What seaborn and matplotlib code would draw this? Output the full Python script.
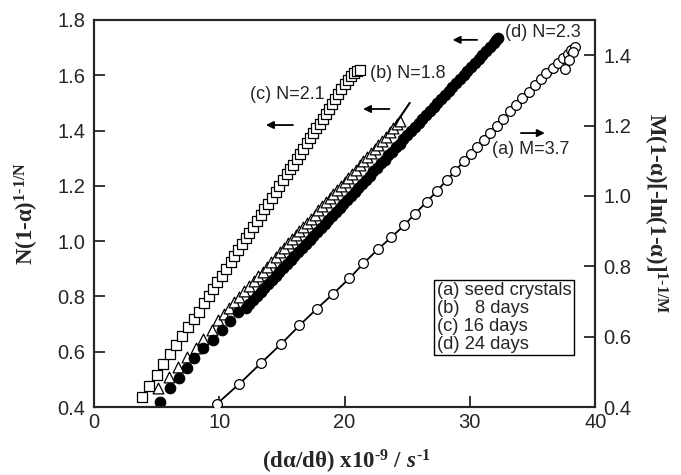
import matplotlib
matplotlib.use("Agg")
import matplotlib.pyplot as plt
import seaborn as sns

# (c) 16 days - open squares, left axis
x_c = [3.8, 4.4, 5.0, 5.5, 6.05, 6.55, 7.0, 7.5, 7.95, 8.35, 8.75, 9.15, 9.5, 9.85,
       10.2, 10.55, 10.9, 11.2, 11.5, 11.8, 12.1, 12.4, 12.7, 13.0, 13.3, 13.6, 13.9,
       14.2, 14.5, 14.8, 15.1, 15.4, 15.65, 15.9, 16.2, 16.45, 16.7, 17.0, 17.25, 17.5,
       17.75, 18.0, 18.25, 18.5, 18.75, 19.0, 19.25, 19.5, 19.75, 20.0, 20.25, 20.5,
       20.75, 21.0, 21.2]
y_c = [0.437, 0.478, 0.516, 0.556, 0.592, 0.624, 0.657, 0.688, 0.72, 0.745, 0.775, 0.80,
       0.826, 0.851, 0.875, 0.900, 0.925, 0.946, 0.967, 0.988, 1.010, 1.031, 1.052, 1.073,
       1.094, 1.115, 1.136, 1.157, 1.179, 1.200, 1.221, 1.242, 1.260, 1.277, 1.298, 1.316,
       1.334, 1.355, 1.372, 1.390, 1.408, 1.425, 1.443, 1.461, 1.478, 1.496, 1.514, 1.531,
       1.549, 1.567, 1.584, 1.598, 1.608, 1.615, 1.620]

# (b) 8 days - open triangles, left axis
x_b = [5.14, 6.0, 6.73, 7.45, 8.14, 8.73, 9.4, 9.9, 10.35, 10.8, 11.2, 11.6, 12.0, 12.4,
       12.75, 13.1, 13.45, 13.8, 14.15, 14.5, 14.85, 15.2, 15.5, 15.8, 16.1, 16.4, 16.7,
       17.0, 17.3, 17.6, 17.9, 18.2, 18.5, 18.8, 19.1, 19.4, 19.7, 20.0, 20.3, 20.6, 20.9,
       21.2, 21.5, 21.8, 22.1, 22.4, 22.7, 23.0, 23.3, 23.6, 23.9, 24.2, 24.4]
y_b = [0.468, 0.51, 0.546, 0.58, 0.612, 0.645, 0.68, 0.715, 0.737, 0.759, 0.779, 0.799,
       0.819, 0.839, 0.856, 0.873, 0.890, 0.908, 0.925, 0.942, 0.960, 0.977, 0.992, 1.007,
       1.022, 1.037, 1.051, 1.066, 1.081, 1.096, 1.111, 1.126, 1.140, 1.155, 1.170, 1.185,
       1.200, 1.215, 1.230, 1.244, 1.259, 1.274, 1.289, 1.304, 1.319, 1.334, 1.348, 1.363,
       1.378, 1.393, 1.408, 1.423, 1.433]
fit_b_x = [24.0, 25.2]
fit_b_y = [1.42, 1.50]

# (d) 24 days - filled circles, left axis
x_d = [5.27, 6.07, 6.81, 7.4, 7.98, 8.73, 9.47, 10.2, 10.86, 11.52,
       12.1, 12.4, 12.7, 13.0, 13.3, 13.6, 13.9, 14.2, 14.5, 14.8, 15.1, 15.4, 15.7,
       16.0, 16.3, 16.6, 16.9, 17.2, 17.5, 17.8, 18.1, 18.4, 18.7, 19.0, 19.3, 19.6,
       19.9, 20.2, 20.5, 20.8, 21.1, 21.4, 21.7, 22.0, 22.3, 22.6, 22.9, 23.2, 23.5,
       23.8, 24.1, 24.4, 24.7, 25.0, 25.3, 25.6, 25.9, 26.2, 26.5, 26.8, 27.1, 27.4,
       27.7, 28.0, 28.3, 28.6, 28.9, 29.2, 29.5, 29.8, 30.1, 30.4, 30.7, 31.0, 31.3,
       31.6, 31.9, 32.1, 32.28]
y_d = [0.419, 0.468, 0.504, 0.54, 0.576, 0.612, 0.642, 0.679, 0.712, 0.745,
       0.757, 0.771, 0.786, 0.801, 0.815, 0.830, 0.844, 0.859, 0.873, 0.888, 0.902,
       0.917, 0.932, 0.946, 0.961, 0.975, 0.990, 1.004, 1.019, 1.033, 1.048, 1.062,
       1.077, 1.092, 1.106, 1.121, 1.135, 1.150, 1.164, 1.179, 1.193, 1.208, 1.223,
       1.237, 1.252, 1.266, 1.281, 1.295, 1.310, 1.324, 1.339, 1.353, 1.368, 1.383,
       1.397, 1.412, 1.426, 1.441, 1.455, 1.470, 1.486, 1.500, 1.514, 1.528, 1.543,
       1.557, 1.572, 1.586, 1.601, 1.615, 1.630, 1.644, 1.659, 1.674, 1.688, 1.703,
       1.717, 1.727, 1.736]

# (a) seed crystals - open circles, right axis
x_a = [9.84, 11.6, 13.36, 14.96, 16.4, 17.8, 19.06, 20.39, 21.5, 22.65, 23.71, 24.78,
       25.63, 26.56, 27.36, 28.16, 28.85, 29.5, 30.1, 30.6, 31.1, 31.6, 32.15, 32.65, 33.2,
       33.7, 34.15, 34.7, 35.2, 35.65, 36.1, 36.6, 37.05, 37.45, 37.8, 38.1, 38.4, 38.2,
       37.9, 37.6]
y_a = [0.41, 0.466, 0.526, 0.58, 0.632, 0.68, 0.721, 0.766, 0.808, 0.848, 0.882, 0.917,
       0.95, 0.983, 1.014, 1.045, 1.072, 1.098, 1.12, 1.14, 1.158, 1.178, 1.198, 1.219,
       1.240, 1.258, 1.277, 1.296, 1.315, 1.332, 1.348, 1.363, 1.377, 1.391, 1.403, 1.414,
       1.424, 1.41, 1.385, 1.36]

left_ticks = [0.4, 0.6, 0.8, 1.0, 1.2, 1.4, 1.6, 1.8]
right_ticks = [0.4, 0.6, 0.8, 1.0, 1.2, 1.4]
x_ticks = [0, 10, 20, 30, 40]

legend_text = "(a) seed crystals\n(b)   8 days\n(c) 16 days\n(d) 24 days"

sns.set_style("ticks")
plt.rcParams['font.family'] = ['Liberation Sans', 'DejaVu Sans']
plt.rcParams['mathtext.fontset'] = 'custom'
plt.rcParams['mathtext.rm'] = 'Liberation Serif:bold'
plt.rcParams['mathtext.it'] = 'Liberation Serif:italic:bold'
plt.rcParams['mathtext.bf'] = 'Liberation Serif:bold'
plt.rcParams['axes.linewidth'] = 1.5

fig = plt.figure(figsize=(6.81, 4.75), dpi=100)
ax = fig.add_axes([0.138, 0.143, 0.736, 0.815])
ax2 = ax.twinx()

# left axis series
sns.scatterplot(x=x_c, y=y_c, marker='s', s=60, color='white', edgecolor='black',
                linewidth=0.9, ax=ax, zorder=3)
sns.scatterplot(x=x_b, y=y_b, marker='^', s=60, color='white', edgecolor='black',
                linewidth=0.9, ax=ax, zorder=3)
sns.lineplot(x=fit_b_x, y=fit_b_y, color='black', linewidth=1.5, ax=ax, zorder=3)
sns.scatterplot(x=x_d, y=y_d, marker='o', s=58, color='black', edgecolor='black',
                linewidth=0.8, ax=ax, zorder=4)

# right axis series
sns.lineplot(x=x_a, y=y_a, sort=False, color='black', linewidth=1.3, marker='o',
             markersize=7, markerfacecolor='white', markeredgecolor='black',
             markeredgewidth=0.9, ax=ax2, zorder=3)

ax.set_xlim(0, 40)
ax.set_ylim(0.4, 1.8)
ax2.set_ylim(0.4, 1.5)
ax.set_xticks(x_ticks)
ax.set_yticks(left_ticks)
ax2.set_yticks(right_ticks)
ax.set_xticklabels([str(t) for t in x_ticks])
ax.set_yticklabels([f"{t:.1f}" for t in left_ticks])
ax2.set_yticklabels([f"{t:.1f}" for t in right_ticks])

ax.tick_params(axis='both', direction='in', length=8, width=1.3, labelsize=14.5,
               top=False, right=False)
ax.tick_params(axis='y', pad=6)
ax.tick_params(axis='x', pad=4)
ax2.tick_params(axis='y', direction='in', length=8, width=1.3, labelsize=14.5, pad=6)
for a in (ax, ax2):
    for sp in a.spines.values():
        sp.set_visible(True)
        sp.set_linewidth(1.5)

ax.set_xlabel(r'$\mathrm{(d\alpha/d\theta)\ x10^{\text{-}9}\ /\ }\mathit{s}^{\mathrm{\text{-}1}}$',
              fontsize=16.5)
ax.xaxis.set_label_coords(0.503, -0.105)
ax.set_ylabel(r'$\mathrm{N(1\text{-}\alpha)^{1\text{-}1/N}}$', fontsize=16.5,
              va='center', ha='center')
ax.yaxis.set_label_coords(-0.134, 0.5)
ax2.set_ylabel(r'$\mathrm{M(1\text{-}\alpha)[\text{-}ln(1\text{-}\alpha)]^{1\text{-}1/M}}$',
               fontsize=16.5, rotation=270, va='center', ha='center')
ax2.yaxis.set_label_coords(1.12, 0.5)

# annotations with arrows (left-axis data coordinates)
arrow = dict(arrowstyle='-|>', color='black', lw=1.3, mutation_scale=11)
ax.text(12.45, 1.53, "(c) N=2.1", fontsize=13, va='center', ha='left')
ax.annotate("", xy=(13.5, 1.42), xytext=(16.1, 1.42), arrowprops=arrow)
ax.text(22.0, 1.608, "(b) N=1.8", fontsize=13, va='center', ha='left')
ax.annotate("", xy=(21.25, 1.478), xytext=(23.8, 1.478), arrowprops=arrow)
ax.text(32.8, 1.753, "(d) N=2.3", fontsize=13, va='center', ha='left')
ax.annotate("", xy=(28.4, 1.728), xytext=(30.8, 1.728), arrowprops=arrow)
ax.text(31.8, 1.33, "(a) M=3.7", fontsize=13, va='center', ha='left')
ax.annotate("", xy=(36.2, 1.391), xytext=(33.85, 1.391), arrowprops=arrow)

ax.text(27.35, 0.852, legend_text, fontsize=13.2, va='top', ha='left', linespacing=1.08,
        bbox=dict(boxstyle='square,pad=0.12', facecolor='white', edgecolor='black',
                  linewidth=1.0), zorder=5)

fig.savefig("out.png", dpi=100)
